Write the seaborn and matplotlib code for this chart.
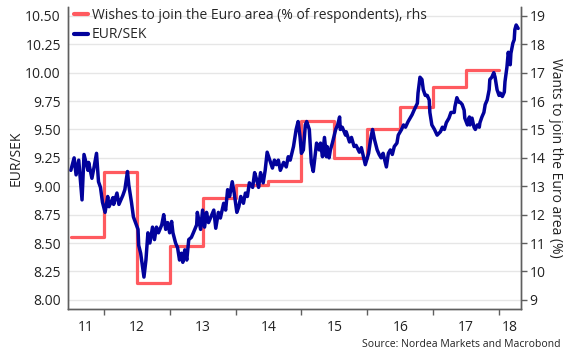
import matplotlib
matplotlib.use("Agg")
import matplotlib.pyplot as plt
import seaborn as sns
import pandas as pd
from matplotlib.ticker import FixedLocator, NullFormatter

# EUR/SEK (left axis), time as decimal years
fx_t = [2011.50, 2011.55, 2011.58, 2011.62, 2011.67, 2011.70, 2011.76, 2011.77, 2011.82, 2011.85,
        2011.89, 2011.92, 2011.95, 2011.98, 2012.02, 2012.06, 2012.08, 2012.14, 2012.15, 2012.20,
        2012.23, 2012.26, 2012.29, 2012.32, 2012.36, 2012.38, 2012.42, 2012.45, 2012.52, 2012.53,
        2012.56, 2012.61, 2012.64, 2012.67, 2012.70, 2012.74, 2012.77, 2012.80, 2012.83, 2012.88,
        2012.91, 2012.94, 2012.97, 2013.00, 2013.03, 2013.05, 2013.09, 2013.12, 2013.15, 2013.18,
        2013.20, 2013.23, 2013.26, 2013.29, 2013.33, 2013.36, 2013.41, 2013.42, 2013.47, 2013.50,
        2013.53, 2013.56, 2013.59, 2013.64, 2013.67, 2013.70, 2013.74, 2013.77, 2013.82, 2013.85,
        2013.88, 2013.91, 2013.95, 2013.98, 2014.02, 2014.05, 2014.08, 2014.12, 2014.15, 2014.18,
        2014.21, 2014.26, 2014.29, 2014.32, 2014.35, 2014.38, 2014.42, 2014.45, 2014.48, 2014.52,
        2014.56, 2014.59, 2014.62, 2014.65, 2014.68, 2014.73, 2014.77, 2014.80, 2014.83, 2014.88,
        2014.92, 2014.95, 2014.98, 2015.00, 2015.03, 2015.06, 2015.08, 2015.12, 2015.15, 2015.18,
        2015.21, 2015.23, 2015.27, 2015.29, 2015.32, 2015.35, 2015.38, 2015.39, 2015.42, 2015.44,
        2015.47, 2015.52, 2015.55, 2015.58, 2015.59, 2015.62, 2015.67, 2015.68, 2015.73, 2015.76,
        2015.80, 2015.83, 2015.88, 2015.91, 2015.97, 2016.02, 2016.05, 2016.08, 2016.11, 2016.15,
        2016.18, 2016.21, 2016.24, 2016.29, 2016.32, 2016.35, 2016.38, 2016.41, 2016.45, 2016.47,
        2016.52, 2016.55, 2016.58, 2016.62, 2016.65, 2016.68, 2016.71, 2016.76, 2016.77, 2016.80,
        2016.83, 2016.85, 2016.88, 2016.91, 2016.94, 2016.95, 2016.98, 2017.02, 2017.06, 2017.11,
        2017.14, 2017.17, 2017.20, 2017.24, 2017.27, 2017.32, 2017.33, 2017.36, 2017.39, 2017.41,
        2017.44, 2017.47, 2017.48, 2017.52, 2017.55, 2017.56, 2017.59, 2017.62, 2017.64, 2017.67,
        2017.70, 2017.71, 2017.74, 2017.77, 2017.79, 2017.82, 2017.85, 2017.86, 2017.89, 2017.92,
        2017.94, 2017.97, 2018.00, 2018.02, 2018.05, 2018.08, 2018.09, 2018.12, 2018.14, 2018.17,
        2018.18, 2018.21, 2018.23, 2018.24, 2018.26, 2018.29]
fx_val = [9.14, 9.25, 9.10, 9.23, 8.88, 9.28, 9.14, 9.21, 9.07, 9.16,
          9.29, 9.04, 8.99, 8.86, 8.77, 8.91, 8.82, 8.90, 8.84, 8.94,
          8.84, 8.88, 8.92, 8.97, 9.13, 9.01, 8.86, 8.73, 8.62, 8.48,
          8.41, 8.20, 8.35, 8.59, 8.50, 8.64, 8.53, 8.64, 8.59, 8.66,
          8.75, 8.62, 8.68, 8.59, 8.69, 8.59, 8.50, 8.46, 8.35, 8.41,
          8.33, 8.44, 8.35, 8.53, 8.55, 8.59, 8.66, 8.77, 8.62, 8.79,
          8.64, 8.77, 8.68, 8.75, 8.79, 8.63, 8.77, 8.72, 8.85, 8.79,
          8.97, 8.91, 9.04, 8.94, 8.77, 8.82, 8.91, 8.85, 8.94, 8.91,
          9.03, 8.99, 9.12, 9.06, 8.99, 9.12, 9.03, 9.14, 9.30, 9.23,
          9.16, 9.23, 9.19, 9.23, 9.14, 9.21, 9.17, 9.26, 9.23, 9.35,
          9.50, 9.57, 9.43, 9.29, 9.32, 9.54, 9.57, 9.50, 9.21, 9.13,
          9.28, 9.38, 9.32, 9.38, 9.26, 9.43, 9.26, 9.35, 9.25, 9.32,
          9.38, 9.50, 9.54, 9.61, 9.50, 9.52, 9.45, 9.48, 9.39, 9.43,
          9.35, 9.36, 9.30, 9.34, 9.19, 9.29, 9.41, 9.50, 9.41, 9.32,
          9.28, 9.25, 9.29, 9.17, 9.29, 9.32, 9.28, 9.35, 9.38, 9.45,
          9.50, 9.54, 9.52, 9.57, 9.60, 9.63, 9.67, 9.73, 9.82, 9.96,
          9.94, 9.85, 9.80, 9.80, 9.76, 9.65, 9.54, 9.50, 9.45, 9.48,
          9.52, 9.50, 9.56, 9.60, 9.65, 9.65, 9.70, 9.78, 9.74, 9.74,
          9.72, 9.67, 9.60, 9.54, 9.61, 9.54, 9.60, 9.52, 9.50, 9.54,
          9.52, 9.56, 9.61, 9.65, 9.72, 9.76, 9.85, 9.94, 9.96, 10.00,
          9.96, 9.85, 9.80, 9.82, 9.79, 9.83, 9.92, 10.05, 10.18, 10.07,
          10.17, 10.26, 10.29, 10.38, 10.42, 10.39]

# Wishes to join the Euro area, % of respondents (right axis), half-yearly
wish_t = [2011.5, 2012.0, 2012.5, 2013.0, 2013.5, 2014.0, 2014.5,
          2015.0, 2015.5, 2016.0, 2016.5, 2017.0, 2017.5]
wish_val = [11.2, 13.5, 9.6, 10.9, 12.6, 13.05, 13.2,
            15.3, 14.0, 15.0, 15.8, 16.5, 17.1]
wish_end = 2018.0

year_labels = ["11", "12", "13", "14", "15", "16", "17", "18"]
left_ticks = [8.00, 8.25, 8.50, 8.75, 9.00, 9.25, 9.50, 9.75, 10.00, 10.25, 10.50]
right_ticks = [9, 10, 11, 12, 13, 14, 15, 16, 17, 18, 19]

BLUE = "#02029c"
RED = "#ff5a5f"
SPINE = "#5f5f5f"

sns.set_theme(style="white")
plt.rcParams["font.family"] = ["Open Sans", "DejaVu Sans"]

fx = pd.DataFrame({"t": fx_t, "v": fx_val})
wish = pd.DataFrame({"t": wish_t + [wish_end], "v": wish_val + [wish_val[-1]]})

fig = plt.figure(figsize=(5.7, 3.6), dpi=100)
ax = fig.add_axes([0.119, 0.142, 0.795, 0.839])
ax2 = ax.twinx()

# red steps on the right axis, drawn underneath the blue line
sns.lineplot(data=wish, x="t", y="v", ax=ax2, color=RED, linewidth=2.3,
             drawstyle="steps-post", estimator=None, sort=False,
             label="Wishes to join the Euro area (% of respondents), rhs")
sns.lineplot(data=fx, x="t", y="v", ax=ax, color=BLUE, linewidth=2.5,
             estimator=None, sort=False, label="EUR/SEK")

ax.set_zorder(ax2.get_zorder() + 1)
ax.patch.set_visible(False)

x0, x1 = 2011.4545, 2018.333
ax.set_xlim(x0, x1)
ax.set_ylim(7.92, 10.58)
ax2.set_ylim(8.68, 19.32)

# grid from the right axis so it sits under both lines
ax2.set_yticks(right_ticks)
ax2.yaxis.grid(True, color="#e6e6e6", linewidth=1.0)
ax.yaxis.grid(False)
ax.xaxis.grid(False)
ax2.xaxis.grid(False)

ax.set_yticks(left_ticks)
ax.set_yticklabels([f"{v:.2f}" for v in left_ticks])

# year boundaries as major ticks, labels centred on the visible part of each year
ax.xaxis.set_major_locator(FixedLocator(list(range(2012, 2019))))
ax.xaxis.set_major_formatter(NullFormatter())
mids = [(x0 + 2012) / 2] + [y + 0.5 for y in range(2012, 2018)] + [(2018 + x1) / 2]
ax.set_xticks(mids, year_labels, minor=True)

ax.tick_params(axis="x", which="major", length=4, width=1, color=SPINE, direction="out", bottom=True)
ax.tick_params(axis="x", which="minor", length=0, pad=8, labelsize=10, colors="#222222")
ax.tick_params(axis="y", length=0, pad=5, labelsize=10, colors="#222222")
ax2.tick_params(axis="y", length=4, width=1, color=SPINE, direction="out", pad=2,
                labelsize=10, labelcolor="#222222", right=True)

ax.set_xlabel("")
ax.set_ylabel("EUR/SEK", fontsize=10, color="#222222", labelpad=1)
ax2.set_ylabel("Wants to join the Euro area (%)", fontsize=10, color="#222222",
               rotation=270, labelpad=13)

for a in (ax, ax2):
    a.spines["top"].set_visible(False)
    for s in ("left", "right", "bottom"):
        a.spines[s].set_color(SPINE)
        a.spines[s].set_linewidth(1.0)

# legend: red first, then blue
h2, l2 = ax2.get_legend_handles_labels()
h1, l1 = ax.get_legend_handles_labels()
ax2.get_legend().remove()
ax.legend(h2 + h1, l2 + l1, loc="upper left", bbox_to_anchor=(-0.005, 1.025),
          frameon=False, fontsize=10, handlelength=1.0, handletextpad=0.3,
          labelspacing=0.35, borderaxespad=0.2)
for line in ax.get_legend().get_lines():
    line.set_linewidth(3)

fig.text(0.984, 0.042, "Source: Nordea Markets and Macrobond", ha="right", va="center",
         fontsize=7.5, color="#222222")

fig.savefig("out.png", dpi=100)
